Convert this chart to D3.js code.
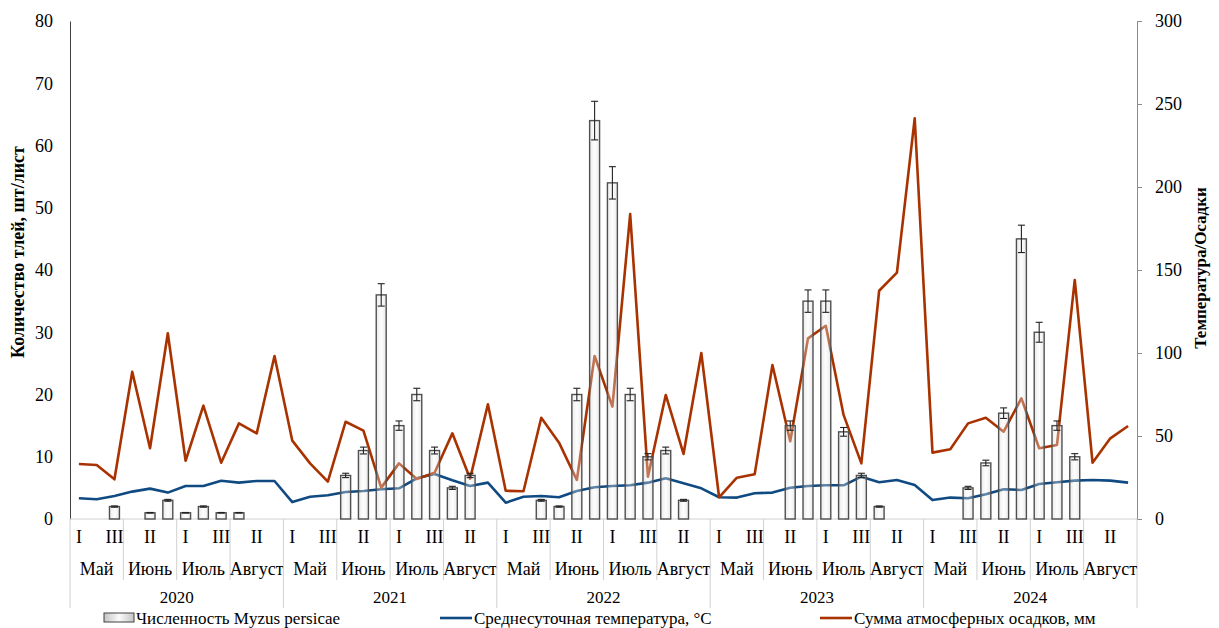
<!DOCTYPE html>
<html><head><meta charset="utf-8">
<script src="https://cdn.jsdelivr.net/npm/d3@7"></script>
<style>body{margin:0;background:#fff;} svg{display:block;} svg text{font-family:"Liberation Serif","Times New Roman",Tinos,"DejaVu Serif","Noto Serif",serif !important;}</style>
</head><body>
<svg id="c" width="1219" height="628"></svg>
<script>
const years = ["2020","2021","2022","2023","2024"];
const months = ["Май","Июнь","Июль","Август"];
const decades = ["I","II","III"];
const aphids = [
  null,null,2,null,1,3,1,2,1,1,null,null,
  null,null,null,7,11,36,15,20,11,5,7,null,
  null,null,3,2,20,64,54,20,10,11,3,null,
  null,null,null,null,15,35,35,14,7,2,null,null,
  null,null,5,9,17,45,30,15,10,null,null,null
];
const aphidErr = [
  0,0,0.1,0,0.05,0.15,0.05,0.1,0.05,0.05,0,0,
  0,0,0,0.35,0.55,1.8,0.75,1.0,0.55,0.25,0.35,0,
  0,0,0.15,0.1,1.0,3.1,2.6,1.0,0.5,0.55,0.15,0,
  0,0,0,0,0.75,1.8,1.8,0.7,0.35,0.1,0,0,
  0,0,0.25,0.45,0.85,2.2,1.6,0.75,0.5,0,0,0
];
const temperature = [
  12.5,11.9,13.9,16.5,18.3,15.9,19.9,19.9,23.0,21.9,22.9,22.9,
  10.2,13.4,14.3,16.3,16.9,17.9,18.5,24.5,27.1,23.3,19.9,21.9,
  9.8,13.4,13.9,13.1,16.9,19.1,19.9,20.3,21.9,24.5,21.5,18.5,
  13.1,12.9,15.5,15.9,18.8,19.9,20.3,20.3,25.5,22.1,23.5,20.5,
  11.4,12.9,12.5,14.9,17.9,17.5,21.1,22.1,23.1,23.5,23.1,21.9
];
const precipitation = [
  33.1,32.5,23.9,88.7,42.6,111.9,35.1,68.3,33.9,57.6,51.6,98.2,
  47.2,33.5,22.5,58.6,53.2,18.9,33.5,24.1,27.9,51.6,24.3,69.1,
  17.0,16.7,61.0,46.0,23.5,98.2,67.7,183.7,25.5,74.7,39.2,100.0,
  13.1,24.9,26.9,92.8,46.8,108.8,116.4,62.7,33.5,137.5,148.4,241.4,
  40.0,42.0,57.6,61.0,52.6,72.7,42.6,44.6,144.0,33.9,48.6,56.0
];
const leftTicks = [0,10,20,30,40,50,60,70,80];
const rightTicks = [0,50,100,150,200,250,300];
const legendLabels = ["Численность Myzus persicae","Среднесуточная температура, °C","Сумма атмосферных осадков, мм"];

const idx = d3.range(years.length*months.length*decades.length);
const L=70, R=1137, T=21, B=519;
const x = d3.scaleBand().domain(idx).range([L,R]).paddingInner(0.44).paddingOuter(0.22);
const step = x.step();
const cx = i => x(i)+x.bandwidth()/2;
const yL = d3.scaleLinear().domain([0,80]).range([B,T]);
const yR = d3.scaleLinear().domain([0,300]).range([B,T]);
const svg = d3.select("#c");
const blue="#104a82", red="#a83300";

const defs = svg.append("defs");
const g = defs.append("linearGradient").attr("id","bg").attr("x1","0").attr("x2","1").attr("y1","0").attr("y2","0");
g.append("stop").attr("offset","0").attr("stop-color","#c4c4c4");
g.append("stop").attr("offset","0.5").attr("stop-color","#fbfbfb");
g.append("stop").attr("offset","1").attr("stop-color","#c4c4c4");

const la = svg.append("g").attr("transform",`translate(${L},0)`)
  .call(d3.axisLeft(yL).tickValues(leftTicks).tickSize(0).tickPadding(17));
la.select(".domain").attr("stroke","#404040");
la.selectAll("text").attr("font-size",18).attr("fill","#000");
const ra = svg.append("g").attr("transform",`translate(${R},0)`)
  .call(d3.axisRight(yR).tickValues(rightTicks).tickSize(5).tickPadding(13));
ra.select(".domain").attr("stroke","#8c8c8c");
ra.selectAll("line").attr("stroke","#8c8c8c");
ra.selectAll("text").attr("font-size",18).attr("fill","#000");

const cat = svg.append("g");
cat.append("line").attr("x1",L).attr("x2",R).attr("y1",B).attr("y2",B).attr("stroke","#d0d0d0");
cat.append("line").attr("x1",L).attr("x2",L).attr("y1",B).attr("y2",608).attr("stroke","#d0d0d0");
cat.append("line").attr("x1",R).attr("x2",R).attr("y1",B).attr("y2",608).attr("stroke","#d0d0d0");
const perYear = months.length*decades.length;
years.forEach((yr,yi)=>{
  const xs = L + yi*perYear*step;
  const x1 = xs + perYear*step;
  if (yi>0) cat.append("line").attr("x1",xs).attr("x2",xs).attr("y1",B).attr("y2",608).attr("stroke","#d0d0d0");
  cat.append("text").attr("x",(xs+x1)/2).attr("y",603).attr("text-anchor","middle").attr("font-size",17).text(yr);
  months.forEach((m,mi)=>{
    const m0 = xs + mi*decades.length*step;
    if (mi>0) cat.append("line").attr("x1",m0).attr("x2",m0).attr("y1",B).attr("y2",580).attr("stroke","#d0d0d0");
    cat.append("text").attr("x",m0+decades.length*step/2).attr("y",575).attr("text-anchor","middle").attr("font-size",18).text(m);
  });
});
idx.forEach(i=>{
  if (i%2===0) cat.append("text").attr("x",cx(i)).attr("y",543).attr("text-anchor","middle").attr("font-size",18).text(decades[i%3]);
});

const lineR = d3.line().x((d,i)=>cx(i)).y(d=>yR(d));
svg.append("path").datum(temperature).attr("d",lineR).attr("fill","none").attr("stroke",blue).attr("stroke-width",2.6).attr("stroke-linejoin","round");
svg.append("path").datum(precipitation).attr("d",lineR).attr("fill","none").attr("stroke",red).attr("stroke-width",2.6).attr("stroke-linejoin","round");

const bd = idx.filter(i=>aphids[i]!=null);
svg.append("g").selectAll("rect").data(bd).join("rect")
  .attr("x",i=>x(i)).attr("width",x.bandwidth())
  .attr("y",i=>yL(aphids[i])).attr("height",i=>B-yL(aphids[i]))
  .attr("fill","url(#bg)").attr("fill-opacity",0.35)
  .attr("stroke","#505050").attr("stroke-width",1.4);
const eg = svg.append("g").attr("stroke","#222").attr("stroke-width",1.1);
bd.forEach(i=>{
  const v=aphids[i], e=aphidErr[i];
  const yt=yL(v+e), yb=yL(v-e), c=cx(i);
  eg.append("line").attr("x1",c).attr("x2",c).attr("y1",yt).attr("y2",yb);
  eg.append("line").attr("x1",c-3.5).attr("x2",c+3.5).attr("y1",yt).attr("y2",yt);
  eg.append("line").attr("x1",c-3.5).attr("x2",c+3.5).attr("y1",yb).attr("y2",yb);
});

svg.append("text").attr("transform","translate(24,252) rotate(-90)").attr("text-anchor","middle")
  .attr("font-size",18).attr("font-weight","bold").text("Количество тлей, шт/лист");
svg.append("text").attr("transform","translate(1206,268) rotate(-90)").attr("text-anchor","middle")
  .attr("font-size",17).attr("font-weight","bold").text("Температура/Осадки");

const lg = svg.append("g").attr("font-size",17);
lg.append("rect").attr("x",104).attr("y",613).attr("width",30).attr("height",9).attr("fill","url(#bg)").attr("stroke","#404040");
lg.append("text").attr("x",136).attr("y",624).text(legendLabels[0]);
lg.append("line").attr("x1",440).attr("x2",472).attr("y1",618).attr("y2",618).attr("stroke",blue).attr("stroke-width",2.6);
lg.append("text").attr("x",474).attr("y",624).text(legendLabels[1]);
lg.append("line").attr("x1",820).attr("x2",852).attr("y1",618).attr("y2",618).attr("stroke",red).attr("stroke-width",2.6);
lg.append("text").attr("x",854).attr("y",624).text(legendLabels[2]);
</script>
</body></html>
